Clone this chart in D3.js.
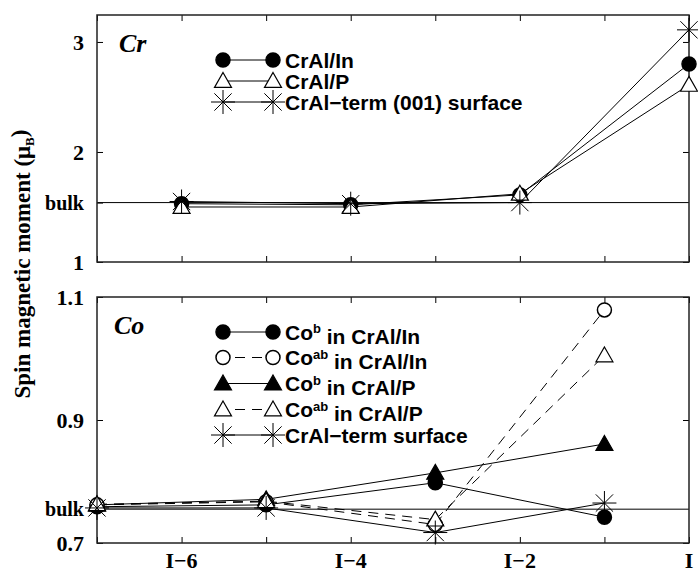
<!DOCTYPE html>
<html>
<head>
<meta charset="utf-8">
<script src="https://cdn.jsdelivr.net/npm/d3@7"></script>
<style>
  body { margin: 0; background: #fff; }
  text { fill: #000; }
</style>
</head>
<body>
<script>
// General constants
const WIDTH = 698;
const HEIGHT = 572;

// Layer positions: 0 = interface layer I, -1 = I-1, ...
const xTickValues = [-7, -6, -5, -4, -3, -2, -1, 0];
const xLabelValues = [-6, -4, -2, 0];

// Cr panel (even layers)
const crLayers = [-6, -4, -2, 0];
const crBulk = 1.54;
const crIn = [1.53, 1.52, 1.61, 2.80];
const crP = [1.50, 1.50, 1.62, 2.61];
const crSurf = [1.55, 1.53, 1.54, 3.11];
const crTicks = [1, 2, 3];

// Co panel (odd layers)
const coLayers = [-7, -5, -3, -1];
const coBulk = 0.755;
const coInB = [0.759, 0.762, 0.798, 0.742];
const coInAB = [0.762, 0.767, 0.730, 1.079];
const coPB = [0.762, 0.771, 0.814, 0.861];
const coPAB = [0.763, 0.768, 0.738, 1.005];
const coSurf = [0.757, 0.757, 0.717, 0.765];
const coTicks = [0.7, 0.9, 1.1];

const svg = d3.select("body")
              .append("svg")
              .attr("width", WIDTH)
              .attr("height", HEIGHT);

const x = d3.scaleLinear().domain([-7, 0]).range([97, 689]);

const SERIF = "'Liberation Serif', 'Times New Roman', serif";
const SANS = "'Liberation Sans', Arial, sans-serif";

/** Marker drawing helpers */
function drawMarker(g, type, cx, cy) {
    if (type === "circleFilled" || type === "circleOpen") {
        g.append("circle").attr("cx", cx).attr("cy", cy).attr("r", 7)
         .attr("fill", type === "circleFilled" ? "#000" : "#fff")
         .attr("stroke", "#000").attr("stroke-width", 1.5);
    } else if (type === "triFilled" || type === "triOpen") {
        const s = 8.5;
        g.append("path")
         .attr("d", `M${cx},${cy - s} L${cx + s},${cy + s * 0.75} L${cx - s},${cy + s * 0.75} Z`)
         .attr("fill", type === "triFilled" ? "#000" : "#fff")
         .attr("stroke", "#000").attr("stroke-width", 1.2);
    } else if (type === "star") {
        const r = 12, d = r * 0.72;
        g.append("path")
         .attr("d", `M${cx},${cy - r} V${cy + r} M${cx - r},${cy} H${cx + r}` +
                    ` M${cx - d},${cy - d} L${cx + d},${cy + d} M${cx - d},${cy + d} L${cx + d},${cy - d}`)
         .attr("fill", "none").attr("stroke", "#000").attr("stroke-width", 1);
    }
}

function drawPanel(opts) {
    const y = d3.scaleLinear().domain(opts.domain).range([opts.bottom, opts.top]);
    const g = svg.append("g");

    // bulk reference line
    g.append("line")
     .attr("x1", x(-7)).attr("x2", x(0))
     .attr("y1", y(opts.bulk)).attr("y2", y(opts.bulk))
     .attr("stroke", "#000").attr("stroke-width", 1);

    // axes: ticks inward on all four sides
    const left = g.append("g").attr("transform", `translate(${x(-7)},0)`)
                  .call(d3.axisRight(y).tickValues(opts.ticks.concat([opts.bulk])).tickSize(6).tickFormat(""));
    const right = g.append("g").attr("transform", `translate(${x(0)},0)`)
                   .call(d3.axisLeft(y).tickValues(opts.ticks).tickSize(6).tickFormat(""));
    const bottom = g.append("g").attr("transform", `translate(0,${opts.bottom})`)
                    .call(d3.axisTop(x).tickValues(xTickValues).tickSize(6).tickFormat(""));
    const top = g.append("g").attr("transform", `translate(0,${opts.top})`)
                 .call(d3.axisBottom(x).tickValues(xTickValues).tickSize(6).tickFormat(""));
    [left, right, bottom, top].forEach(a => {
        a.select(".domain").remove();
        a.selectAll("line").attr("stroke", "#000").attr("stroke-width", 1);
    });

    // frame
    g.append("rect")
     .attr("x", x(-7)).attr("y", opts.top)
     .attr("width", x(0) - x(-7)).attr("height", opts.bottom - opts.top)
     .attr("fill", "none").attr("stroke", "#222").attr("stroke-width", 1.5);

    // y tick labels
    const labels = opts.ticks.map(t => ({v: t, s: opts.fmt(t)}))
                       .concat([{v: opts.bulk, s: "bulk"}]);
    g.selectAll(".ylab").data(labels).enter().append("text")
     .attr("x", 84).attr("y", d => y(d.v)).attr("dy", "0.35em")
     .attr("text-anchor", "end")
     .style("font-family", SERIF)
     .style("font-weight", "bold")
     .style("font-size", d => d.s === "bulk" ? "20px" : "22px")
     .text(d => d.s);

    // series
    const line = d3.line().x(d => x(d[0])).y(d => y(d[1]));
    opts.series.forEach(s => {
        const pts = opts.layers.map((l, i) => [l, s.values[i]]);
        g.append("path").datum(pts)
         .attr("d", line).attr("fill", "none")
         .attr("stroke", "#000").attr("stroke-width", 1)
         .attr("stroke-dasharray", s.dashed ? "10,7" : null);
    });
    opts.series.forEach(s => {
        opts.layers.forEach((l, i) => drawMarker(g, s.marker, x(l), y(s.values[i])));
    });

    // legend
    opts.series.forEach((s, i) => {
        const ly = opts.legendY[i];
        g.append("line").attr("x1", 223).attr("x2", 273).attr("y1", ly).attr("y2", ly)
         .attr("stroke", "#000").attr("stroke-width", 1)
         .attr("stroke-dasharray", s.dashed ? "10,7" : null)
         .attr("stroke-dashoffset", s.dashed ? -12 : null);
        drawMarker(g, s.marker, 223, ly);
        drawMarker(g, s.marker, 273, ly);
        const t = g.append("text").attr("x", 285).attr("y", ly).attr("dy", "0.36em")
                   .style("font-family", SANS)
                   .style("font-weight", "bold").style("font-size", "21px");
        if (s.sup) {
            t.append("tspan").text(s.label[0]);
            t.append("tspan").attr("dy", "-0.5em").style("font-size", "13px").text(s.sup);
            t.append("tspan").attr("dy", "0.5em").text(s.label[1]);
        } else {
            t.text(s.label);
        }
    });

    // panel name
    g.append("text").attr("x", opts.nameX).attr("y", opts.nameY)
     .style("font-family", SERIF)
     .style("font-weight", "bold").style("font-style", "italic").style("font-size", "26px")
     .text(opts.name);
    return y;
}

drawPanel({
    top: 15, bottom: 262, domain: [1, 3.245],
    ticks: crTicks, bulk: crBulk, fmt: d3.format("d"),
    layers: crLayers, name: "Cr", nameX: 119, nameY: 52,
    legendY: [60, 81, 102],
    series: [
        {values: crIn, marker: "circleFilled", label: "CrAl/In"},
        {values: crP, marker: "triOpen", label: "CrAl/P"},
        {values: crSurf, marker: "star", label: "CrAl\u2212term (001) surface"}
    ]
});

drawPanel({
    top: 297, bottom: 543, domain: [0.7, 1.1],
    ticks: coTicks, bulk: coBulk, fmt: d3.format(".1f"),
    layers: coLayers, name: "Co", nameX: 114, nameY: 334,
    legendY: [332, 357.5, 383.5, 409.5, 435],
    series: [
        {values: coInB, marker: "circleFilled", label: ["Co", "  in CrAl/In"], sup: "b"},
        {values: coInAB, marker: "circleOpen", dashed: true, label: ["Co", " in CrAl/In"], sup: "ab"},
        {values: coPB, marker: "triFilled", label: ["Co", "  in CrAl/P"], sup: "b"},
        {values: coPAB, marker: "triOpen", dashed: true, label: ["Co", " in CrAl/P"], sup: "ab"},
        {values: coSurf, marker: "star", label: "CrAl\u2212term surface"}
    ]
});

// x labels under the bottom panel
svg.selectAll(".xlab").data(xLabelValues).enter().append("text")
   .attr("x", d => x(d)).attr("y", 568)
   .attr("text-anchor", "middle")
   .style("font-family", SERIF)
   .style("font-weight", "bold").style("font-size", "22px")
   .text(d => d === 0 ? "I" : "I\u2212" + (-d));

// y axis title
const yTitle = svg.append("text")
   .attr("transform", "translate(30,264) rotate(-90)")
   .attr("text-anchor", "middle")
   .style("font-family", SERIF)
   .style("font-weight", "bold").style("font-size", "23px");
yTitle.append("tspan").text("Spin magnetic moment (\u03bc");
yTitle.append("tspan").attr("dy", "0.3em").style("font-size", "13px").text("B");
yTitle.append("tspan").attr("dy", "-0.3em").text(")");
</script>
</body>
</html>
